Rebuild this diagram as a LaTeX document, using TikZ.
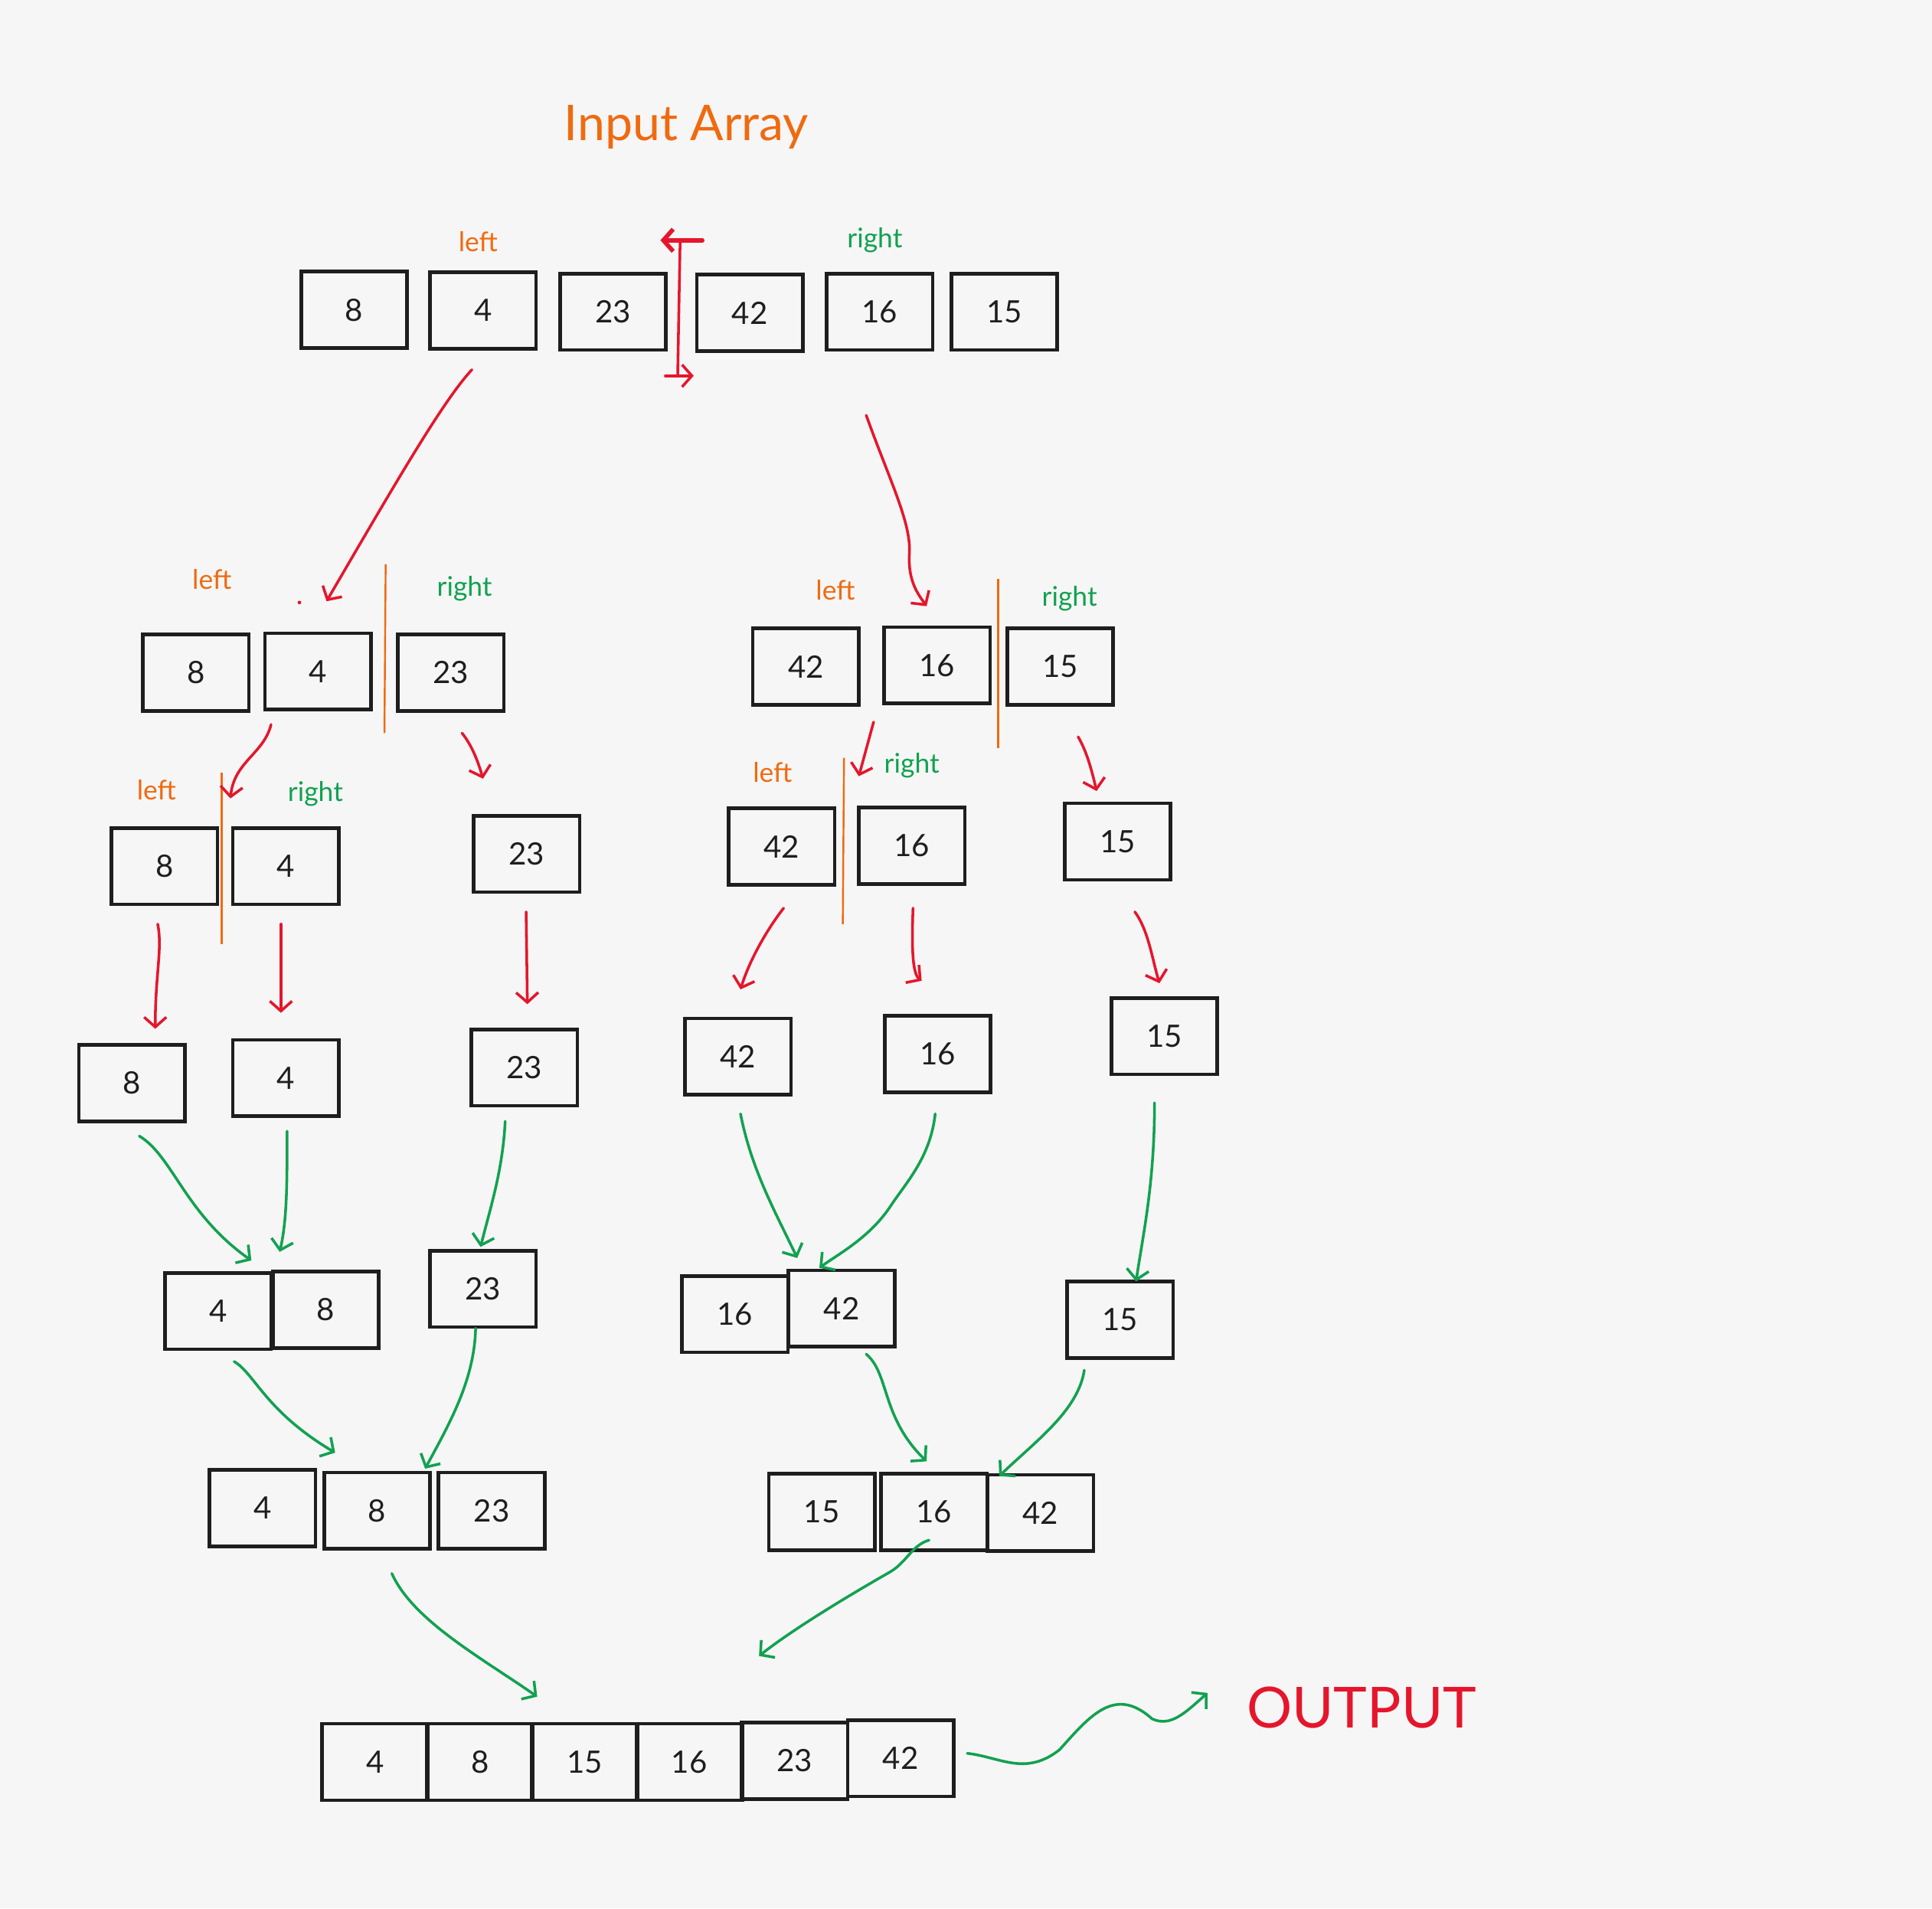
\documentclass[tikz,border=0pt]{standalone}
\usepackage{fontspec}
\setmainfont{Lato}
\usetikzlibrary{arrows.meta}
\definecolor{bg}{HTML}{F6F6F6}
\definecolor{ink}{HTML}{1E1E1E}
\definecolor{orng}{HTML}{F06A10}
\definecolor{redc}{HTML}{E5162C}
\definecolor{grn}{HTML}{12A150}
\begin{document}
\begin{tikzpicture}[x=1pt,y=-1pt,
 cell/.style={draw=ink,line width=2.9pt,minimum width=86pt,minimum height=62pt,inner sep=0pt,font=\fontsize{25}{25}\selectfont,text=ink},
 lft/.style={font=\fontsize{22}{22}\selectfont,text=orng},
 rgt/.style={font=\fontsize{22}{22}\selectfont,text=grn},
 split/.style={draw=orng,line width=1.5pt},
 redarr/.style={draw=redc,line width=2.2pt,line cap=round,line join=round,-{Straight Barb[length=8pt,width=18pt]}},
 grnarr/.style={draw=grn,line width=2.2pt,line cap=round,line join=round,-{Straight Barb[length=8pt,width=18pt]}}
]
\fill[bg] (0,0) rectangle (1568,1549);
\useasboundingbox (0,0) rectangle (1568,1549);

% title
\node[font=\fontsize{40}{40}\selectfont,text=orng] (title) at (557,103) {Input Array};
\node[font=\fontsize{46}{46}\selectfont,text=redc] (out) at (1105,1386) {OUTPUT};

% row 1
\node[cell] (a1) at (287.5,251.5) {8};
\node[cell] (a2) at (392,252) {4};
\node[cell] (a3) at (497.5,253) {23};
\node[cell] (a4) at (608.5,254) {42};
\node[cell] (a5) at (714,253) {16};
\node[cell] (a6) at (815,253) {15};
\node[lft] (la) at (388,196) {left};
\node[rgt] (ra) at (710,195) {right};

% red split marker at top
\coordinate (m1) at (570,195);
\coordinate (m2) at (536,195);
\coordinate (m3) at (552,195);
\coordinate (m4) at (550,305);
\coordinate (m5) at (540,305);
\coordinate (m6) at (563,305);
\draw[redarr,line width=3.5pt] (m1) -- (m2);
\draw[draw=redc,line width=2.2pt] (m3) -- (m4);
\draw[redarr] (m5) -- (m6);

% row 2
\node[cell] (b1) at (159,546) {8};
\node[cell] (b2) at (258,545) {4};
\node[cell] (b3) at (366,546) {23};
\node[cell] (b4) at (654,541) {42};
\node[cell] (b5) at (760.5,540) {16};
\node[cell] (b6) at (860.5,541) {15};
\node[lft] (lb1) at (172,470) {left};
\node[rgt] (rb1) at (377,478) {right};
\node[lft] (lb2) at (678,479) {left};
\node[rgt] (rb2) at (868,486) {right};
\coordinate (s1t) at (313,458); \coordinate (s1b) at (312,595);
\coordinate (s2t) at (810,470); \coordinate (s2b) at (810,607);
\draw[split] (s1t) -- (s1b);
\draw[split] (s2t) -- (s2b);
\fill[redc] (243,489) circle (1.5);

% row 3
\node[cell] (c1) at (133.5,703) {8};
\node[cell] (c2) at (232,703) {4};
\node[cell] (c3) at (427.5,693) {23};
\node[cell] (c4) at (634.5,687) {42};
\node[cell] (c5) at (740,686.5) {16};
\node[cell] (c6) at (907,683) {15};
\node[lft] (lc1) at (127,641) {left};
\node[rgt] (rc1) at (256,644) {right};
\node[lft] (lc2) at (627,627) {left};
\node[rgt] (rc2) at (740,621) {right};
\coordinate (s3t) at (180,627); \coordinate (s3b) at (180,766);
\coordinate (s4t) at (685,615); \coordinate (s4b) at (684,750);
\draw[split] (s3t) -- (s3b);
\draw[split] (s4t) -- (s4b);

% row 4
\node[cell] (d1) at (107,879) {8};
\node[cell] (d2) at (232,875) {4};
\node[cell] (d3) at (425.5,866.5) {23};
\node[cell] (d4) at (599,857.5) {42};
\node[cell] (d5) at (761,855.5) {16};
\node[cell] (d6) at (945,841) {15};

% row 5
\node[cell] (e1) at (177,1064) {4};
\node[cell] (e2) at (264.5,1063) {8};
\node[cell] (e3) at (392,1046) {23};
\node[cell] (e4) at (596.5,1066.5) {16};
\node[cell] (e5) at (683,1062) {42};
\node[cell] (e6) at (909,1071) {15};

% row 6
\node[cell] (f1) at (213,1224) {4};
\node[cell] (f2) at (306,1226) {8};
\node[cell] (f3) at (399,1226) {23};
\node[cell] (f4) at (667,1227) {15};
\node[cell] (f5) at (758,1227) {16};
\node[cell] (f6) at (844.5,1228) {42};

% row 7
\node[cell] (g1) at (304.5,1430) {4};
\node[cell] (g2) at (389.5,1430) {8};
\node[cell] (g3) at (474.5,1430) {15};
\node[cell] (g4) at (559.5,1430) {16};
\node[cell] (g5) at (645,1429) {23};
\node[cell] (g6) at (731,1427) {42};

% red arrows (splitting)
\coordinate (p1a) at (383,300); \coordinate (p1b) at (265,488);
\draw[redarr] (p1a) .. controls (360,325) and (325,385) .. (p1b);
\coordinate (p2a) at (703,337); \coordinate (p2m) at (738,450); \coordinate (p2b) at (752,492);
\draw[redarr] (p2a) .. controls (722,390) and (740,425) .. (p2m) .. controls (737,472) and (745,482) .. (p2b);
\coordinate (p3a) at (220,588); \coordinate (p3b) at (187,648);
\draw[redarr] (p3a) .. controls (214,612) and (190,618) .. (p3b);
\coordinate (p4a) at (375,595); \coordinate (p4b) at (392,632);
\draw[redarr] (p4a) .. controls (383,605) and (388,618) .. (p4b);
\coordinate (p5a) at (709,586); \coordinate (p5b) at (697,630);
\draw[redarr] (p5a) -- (p5b);
\coordinate (p6a) at (875,598); \coordinate (p6b) at (890,642);
\draw[redarr] (p6a) .. controls (882,610) and (886,625) .. (p6b);
\coordinate (p7a) at (128,750); \coordinate (p7b) at (126,835);
\draw[redarr] (p7a) .. controls (132,770) and (126,790) .. (p7b);
\coordinate (p8a) at (228,750); \coordinate (p8b) at (228,822);
\draw[redarr] (p8a) -- (p8b);
\coordinate (p9a) at (427,740); \coordinate (p9b) at (428,815);
\draw[redarr] (p9a) -- (p9b);
\coordinate (p10a) at (636,737); \coordinate (p10b) at (601,803);
\draw[redarr] (p10a) .. controls (622,755) and (608,780) .. (p10b);
\coordinate (p11a) at (741,737); \coordinate (p11b) at (748,796);
\draw[redarr] (p11a) .. controls (740,765) and (740,790) .. (p11b);
\coordinate (p12a) at (921,740); \coordinate (p12b) at (941,798);
\draw[redarr] (p12a) .. controls (932,755) and (935,778) .. (p12b);

% green arrows (merging)
\coordinate (q1a) at (113,922); \coordinate (q1b) at (204,1023);
\draw[grnarr] (q1a) .. controls (140,938) and (150,985) .. (q1b);
\coordinate (q2a) at (233,918); \coordinate (q2b) at (227,1016);
\draw[grnarr] (q2a) .. controls (233,960) and (233,990) .. (q2b);
\coordinate (q3a) at (410,910); \coordinate (q3b) at (390,1012);
\draw[grnarr] (q3a) .. controls (408,950) and (398,980) .. (q3b);
\coordinate (q4a) at (601,904); \coordinate (q4b) at (647,1021);
\draw[grnarr] (q4a) .. controls (610,950) and (630,985) .. (q4b);
\coordinate (q5a) at (759,904); \coordinate (q5m) at (722,980); \coordinate (q5b) at (665,1029);
\draw[grnarr] (q5a) .. controls (755,940) and (735,960) .. (q5m) .. controls (705,1005) and (680,1018) .. (q5b);
\coordinate (q6a) at (937,895); \coordinate (q6b) at (922,1040);
\draw[grnarr] (q6a) .. controls (937,960) and (928,1000) .. (q6b);
\coordinate (q7a) at (190,1105); \coordinate (q7b) at (272,1179);
\draw[grnarr] (q7a) .. controls (207,1115) and (215,1145) .. (q7b);
\coordinate (q8a) at (386,1078); \coordinate (q8b) at (345,1192);
\draw[grnarr] (q8a) .. controls (385,1120) and (365,1155) .. (q8b);
\coordinate (q9a) at (703,1099); \coordinate (q9b) at (752,1186);
\draw[grnarr] (q9a) .. controls (722,1115) and (715,1150) .. (q9b);
\coordinate (q10a) at (880,1112); \coordinate (q10b) at (811,1198);
\draw[grnarr] (q10a) .. controls (875,1145) and (840,1170) .. (q10b);
\coordinate (q11a) at (318,1277); \coordinate (q11b) at (436,1377);
\draw[grnarr] (q11a) .. controls (335,1315) and (390,1345) .. (q11b);
\coordinate (q12a) at (754,1250); \coordinate (q12m) at (722,1276); \coordinate (q12b) at (616,1344);
\draw[grnarr] (q12a) .. controls (740,1254) and (736,1268) .. (q12m) .. controls (680,1300) and (640,1325) .. (q12b);
\coordinate (q13a) at (785,1423); \coordinate (q13m1) at (860,1420); \coordinate (q13m2) at (935,1395); \coordinate (q13b) at (980,1374);
\draw[grnarr] (q13a) .. controls (812,1426) and (832,1442) .. (q13m1) .. controls (885,1392) and (905,1368) .. (q13m2) .. controls (950,1402) and (962,1390) .. (q13b);
\end{tikzpicture}
\end{document}
